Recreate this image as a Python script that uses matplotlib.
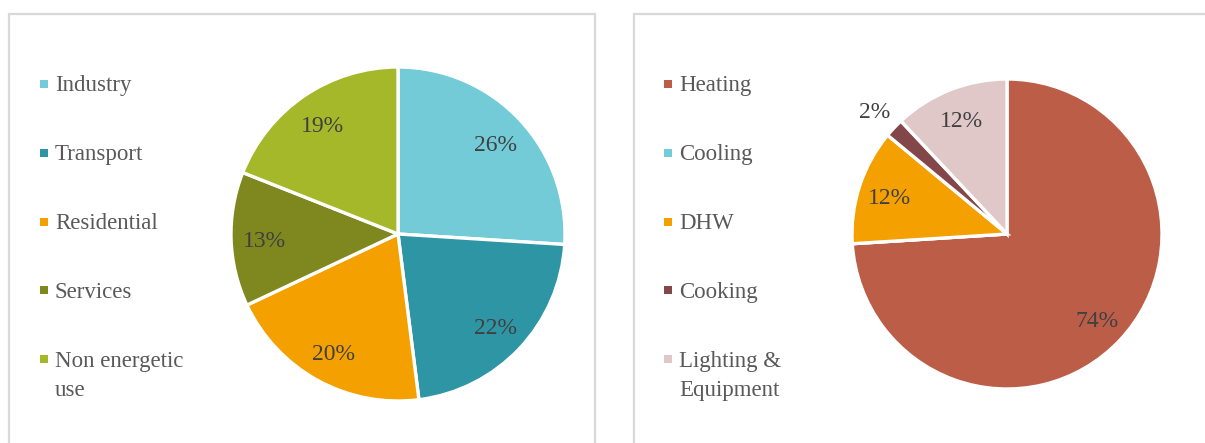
import matplotlib
matplotlib.use("Agg")
import matplotlib.pyplot as plt
from matplotlib.patches import Rectangle
import numpy as np

# ---- data ----
left_labels = ["Industry", "Transport", "Residential", "Services", "Non energetic\nuse"]
left_values = [26, 22, 20, 13, 19]
left_colors = ["#72CBD6", "#2E95A4", "#F4A000", "#7E881F", "#A5B82A"]

right_labels = ["Heating", "Cooling", "DHW", "Cooking", "Lighting &\nEquipment"]
right_values = [74, 0, 12, 2, 12]
right_colors = ["#BC5D48", "#72CBD6", "#F4A000", "#83474A", "#E0C8C8"]

W, H = 1205, 443
DPI = 100
plt.rcParams['font.family'] = ['Liberation Serif', 'DejaVu Serif']
fig = plt.figure(figsize=(W / DPI, H / DPI), dpi=DPI)

def fx(px):
    return px / W

def fy(py):
    return 1 - py / H

# panel frames
for (x0, x1) in [(8.5, 594.5), (633.5, 1220)]:
    fig.patches.append(Rectangle((fx(x0), fy(470)), fx(x1) - fx(x0), fy(14.5) - fy(470),
                                 transform=fig.transFigure, fill=False,
                                 edgecolor="#D9D9D9", linewidth=1.6, zorder=0))

TXT = "#595959"
PCT = "#404040"
FS = 16.5
PFS = 17

def draw_pie(cx, cy, r, values, colors):
    ax = fig.add_axes([fx(cx - r), fy(cy + r), (2 * r) / W, (2 * r) / H])
    wedges, _ = ax.pie(values, colors=colors, startangle=90, counterclock=False,
                       radius=1, wedgeprops=dict(edgecolor="white", linewidth=2.4))
    total = float(sum(values))
    for w, v in zip(wedges, values):
        if v <= 0:
            continue
        ang = np.deg2rad((w.theta1 + w.theta2) / 2)
        frac = v / total
        d = 0.8 if frac >= 0.05 else 1.17
        ax.text(d * np.cos(ang), d * np.sin(ang) - 0.02, f"{v:.0f}%", ha="center",
                va="center", fontsize=PFS, color=PCT)
    ax.set_xlim(-1, 1)
    ax.set_ylim(-1, 1)
    ax.set_aspect("equal")
    ax.axis("off")
    return ax

def draw_legend(mx, tx, y0, step, labels, colors):
    for i, (lab, col) in enumerate(zip(labels, colors)):
        yc = y0 + i * step
        s = 8
        fig.patches.append(Rectangle((fx(mx - s / 2), fy(yc + s / 2)), s / W, s / H,
                                     transform=fig.transFigure, facecolor=col,
                                     edgecolor="none"))
        for k, line in enumerate(lab.split("\n")):
            fig.text(fx(tx), fy(yc + 7.5 + k * 29), line, ha="left", va="baseline",
                     fontsize=FS, color=TXT)

draw_pie(398, 234, 167, left_values, left_colors)
draw_pie(1007, 234, 155, right_values, right_colors)

draw_legend(43.5, 55, 84, 68.8, left_labels, left_colors)
draw_legend(667.5, 679, 84, 68.8, right_labels, right_colors)

fig.savefig("out.png", dpi=DPI, facecolor="white")
